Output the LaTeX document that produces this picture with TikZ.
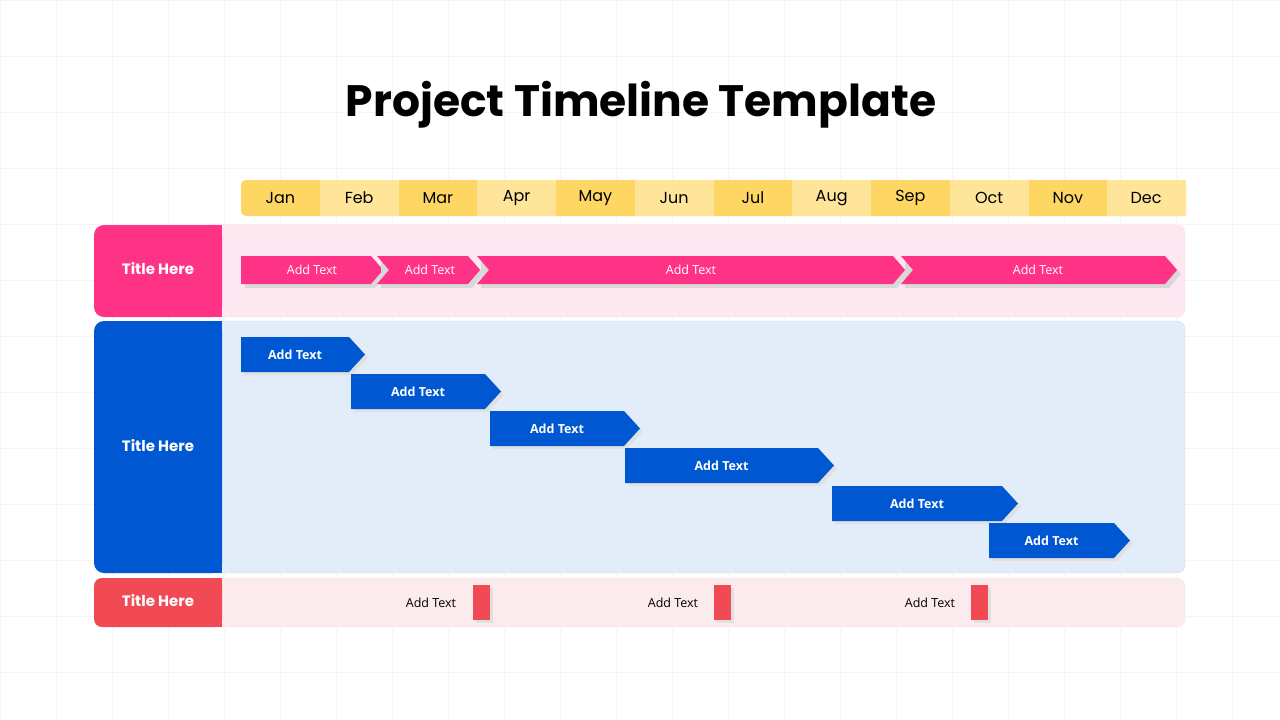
\documentclass[tikz,border=0pt]{standalone}
\usepackage{fontspec}
\setmainfont{Poppins}
\newfontfamily\osans{Open Sans}
\definecolor{ydark}{HTML}{FDD663}
\definecolor{ylight}{HTML}{FEE599}
\definecolor{pinkc}{HTML}{FF3385}
\definecolor{pinkbg}{HTML}{FDE8F1}
\definecolor{bluec}{HTML}{0057D2}
\definecolor{bluebg}{HTML}{E3EDFA}
\definecolor{redc}{HTML}{F24A55}
\definecolor{redbg}{HTML}{FCEBEC}
\begin{document}
\begin{tikzpicture}[x=1pt,y=-1pt,
  month/.style={font=\fontsize{16}{18}\selectfont, text=black},
  ttl/.style={font=\fontsize{15}{17}\selectfont\bfseries, text=white},
  ptxt/.style={font=\osans\fontsize{12.5}{14}\selectfont, text=white},
  btxt/.style={font=\osans\fontsize{12.5}{14}\selectfont\bfseries, text=white},
  rtxt/.style={font=\osans\fontsize{12.5}{14}\selectfont, text=black}]
\useasboundingbox (0,0) rectangle (1280,720);
\fill[white] (0,0) rectangle (1280,720);
\foreach \i in {0,...,22} {\draw[black!4] (\i*56,0) -- (\i*56,720);}
\foreach \j in {0,...,13} {\draw[black!4] (0,\j*56) -- (1280,\j*56);}
\node[font=\fontsize{44}{48}\selectfont\bfseries] (title) at (641,105) {Project Timeline Template};
% months
\fill[ydark,rounded corners=5pt] (241,180) rectangle (1186,216);
\foreach \m [count=\k from 0] in {Jan,Feb,Mar,Apr,May,Jun,Jul,Aug,Sep,Oct,Nov,Dec} {
  \pgfmathsetmacro{\xa}{241+\k*78.75}
  \ifodd\k \fill[ylight] (\xa,180) rectangle ({\xa+78.75},216);\fi
  \node[month] (m\k) at ({\xa+39.4},198) {\m};
}
\fill[ylight,rounded corners=5pt] (1110,180) rectangle (1186,216);
\fill[ylight] (1107.25,180) rectangle (1120,216);
\node[month] (m11b) at (1146,198) {Dec};
% pink row
\fill[pinkbg,draw=pinkc!15,rounded corners=8pt] (200,225) rectangle (1185,317);
\fill[pinkc,rounded corners=10pt] (94,225) rectangle (222,317);
\fill[pinkc] (200,225) rectangle (222,317);
\node[ttl] (t1) at (158,269) {Title Here};
\foreach \a/\b/\n [count=\c] in {241/383/0,377/480/1,477/905/1,901/1177/1} {
  \fill[black!15] (\a+4,256+4) -- (\b-12+4,260) -- (\b+4,274) -- (\b-12+4,288) -- (\a+4,288) -- cycle;
  \ifnum\n=0
    \fill[pinkc] (\a,256) -- (\b-12,256) -- (\b,270) -- (\b-12,284) -- (\a,284) -- cycle;
  \else
    \fill[pinkc] (\a,256) -- (\b-12,256) -- (\b,270) -- (\b-12,284) -- (\a,284) -- (\a+12,270) -- cycle;
  \fi
}
\node[ptxt] (p1) at (312,270) {Add Text};
\node[ptxt] (p2) at (430,270) {Add Text};
\node[ptxt] (p3) at (691,270) {Add Text};
\node[ptxt] (p4) at (1038,270) {Add Text};
% blue row
\fill[bluebg,draw=bluec!20,rounded corners=8pt] (200,321) rectangle (1185,573);
\fill[bluec,rounded corners=10pt] (94,321) rectangle (222,573);
\fill[bluec] (200,321) rectangle (222,573);
\node[ttl] (t2) at (158,446) {Title Here};
\foreach \a/\b/\y [count=\c] in {241/365/337,351/501/374,490/640/411,625/834/448,832/1018/486,989/1130/523} {
  \fill[black!12] (\a+3,\y+3) -- (\b-16+3,\y+3) -- (\b+3,\y+20.5) -- (\b-16+3,\y+38) -- (\a+3,\y+38) -- cycle;
  \fill[bluec] (\a,\y) -- (\b-16,\y) -- (\b,\y+17.5) -- (\b-16,\y+35) -- (\a,\y+35) -- cycle;
  \node[btxt] (b\c) at ({(\a+\b-16)/2},\y+17.5) {Add Text};
}
% red row
\fill[redbg,draw=redc!15,rounded corners=8pt] (200,578) rectangle (1185,627);
\fill[redc,rounded corners=8pt] (94,578) rectangle (222,627);
\fill[redc] (200,578) rectangle (222,627);
\node[ttl] (t3) at (158,601) {Title Here};
\foreach \a/\tx [count=\c] in {473/431,714/673,971/930} {
  \fill[black!12] (\a+3,588) rectangle (\a+20,623);
  \fill[redc] (\a,585) rectangle (\a+17,620);
  \node[rtxt] (r\c) at (\tx,603) {Add Text};
}
\end{tikzpicture}
\end{document}
